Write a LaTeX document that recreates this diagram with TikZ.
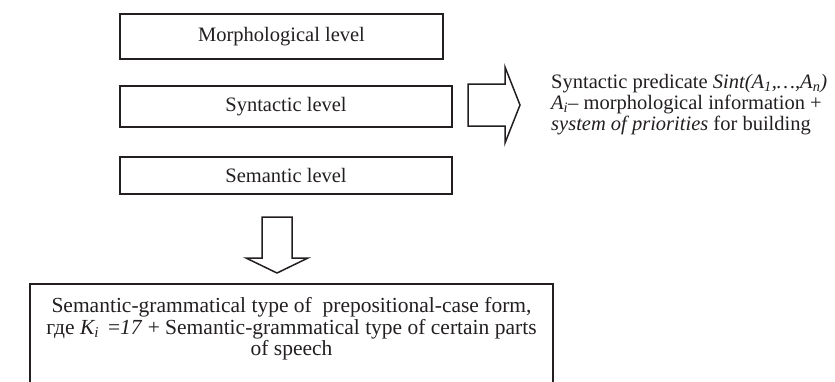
\documentclass[tikz,border=0pt]{standalone}
\usepackage{fontspec}
\setmainfont{Liberation Serif}
\definecolor{ink}{HTML}{231F20}
\begin{document}
\begin{tikzpicture}[x=1pt,y=-1pt,
  every node/.style={text=ink},
  levelbox/.style={draw=ink, line width=1.8pt, inner sep=0pt,
    font=\fontsize{20.5}{20.5}\selectfont},
  blockarrow/.style={draw=ink, line width=1.5pt, line join=miter},
  note/.style={inner sep=0pt, font=\fontsize{20.5}{21}\selectfont},
  resulttext/.style={inner sep=0pt, align=center,
    font=\fontsize{21.5}{21.5}\selectfont},
]
\useasboundingbox (0,0) rectangle (835,381);
\clip (0,0) rectangle (835,381);

% the three levels of analysis
\node[levelbox, minimum width=323pt, minimum height=45pt] (morph) at (281.5,36.5) {Morphological level};
\node[levelbox, minimum width=332pt, minimum height=41pt] (synt)  at (286,106.5) {Syntactic level};
\node[levelbox, minimum width=332pt, minimum height=37pt] (sem)   at (286,175.5) {Semantic level};

% block arrow to the syntactic predicate
\draw[blockarrow] (468,84) -- (505,84) -- (505,67) -- (520,105) -- (505,143)
  -- (505,126) -- (468,126) -- cycle;

\node[note, anchor=north west, align=left] (pred) at (551,74)
  {Syntactic predicate \textit{Sint(A\textsubscript{1},…,A\textsubscript{n})}\\
   \textit{A\textsubscript{i}}– morphological information +\\
   \textit{system of priorities} for building};

% block arrow down to the result
\draw[blockarrow] (262,217) -- (292,217) -- (292,258) -- (308,258) -- (277,273)
  -- (246,258) -- (262,258) -- cycle;

% result box (runs past the lower edge)
\node[draw=ink, line width=1.8pt, inner sep=0pt, anchor=north,
  minimum width=523pt, minimum height=140pt] (result) at (291.5,283) {};
\node[resulttext, anchor=north] (restext) at (291.5,297.5)
  {Semantic-grammatical type of~ prepositional-case form,\\
   где \textit{K\textsubscript{i}} \,=\textit{17} + Semantic-grammatical type of certain parts\\
   of speech};
\end{tikzpicture}
\end{document}
